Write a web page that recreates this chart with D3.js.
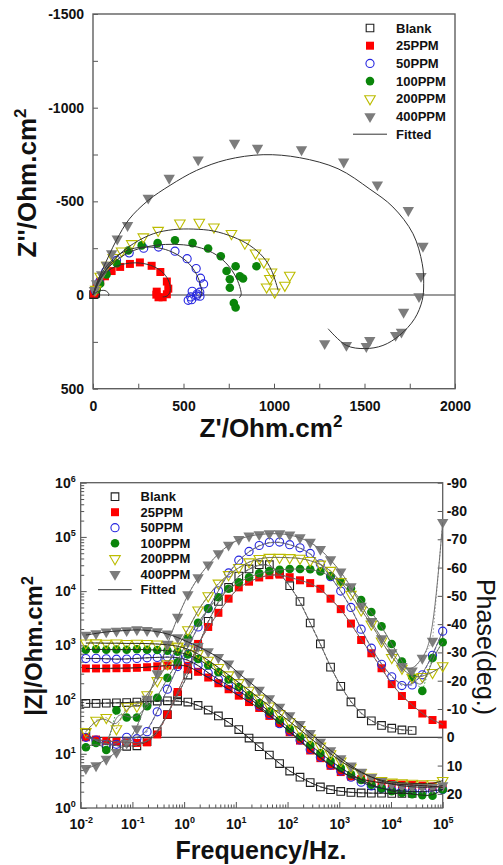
<!DOCTYPE html>
<html><head><meta charset="utf-8">
<script src="https://cdn.jsdelivr.net/npm/d3@7"></script>
<style>
html,body{margin:0;padding:0;background:#fff;}
svg{display:block;}
text{font-family:"Liberation Sans",Arial,Helvetica,sans-serif;}
</style></head><body>
<svg id="chart" width="503" height="865"></svg>
<script>
// ---------- series ----------
const seriesNames = ["Blank", "25PPM", "50PPM", "100PPM", "200PPM", "400PPM"];

// ---------- Nyquist: measured points [Z', Z''] (Ohm.cm2) ----------
const nyqBlank = [[3,-2],[8,-5],[15,-9]];
const nyq25 = [[5,-8],[11,-20],[22,-45],[40,-72],[66,-100],[103,-128],[150,-150],[204,-166],[259,-174],[324,-156],[372,-123],[408,-72],[416,-34],[408,-4],[385,12],[362,12],[350,-2],[352,-18]];
const nyq50 = [[12,-25],[35,-70],[70,-125],[130,-185],[200,-225],[280,-250],[362,-256],[453,-234],[520,-194],[570,-141],[594,-90],[611,-59],[590,-15],[572,5],[548,-20],[540,10],[526,28],[545,25],[591,6],[575,-5]];
const nyq100 = [[20,-30],[39,-60],[75,-110],[131,-170],[195,-238],[269,-265],[357,-277],[453,-292],[550,-277],[636,-248],[706,-207],[788,-154],[738,-128],[756,-84],[756,-39],[811,-100],[829,-88],[903,-154],[778,43],[788,67]];
const nyq200 = [[15,-30],[40,-100],[76,-158],[112,-200],[158,-235],[214,-274],[278,-310],[360,-345],[480,-384],[587,-388],[668,-363],[765,-328],[839,-277],[898,-224],[944,-176],[986,-123],[977,-88],[959,-43],[1004,-16],[1060,-52],[1087,-105]];
const nyq400 = [[8,-25],[20,-61],[48,-110],[75,-160],[103,-222],[134,-300],[191,-372],[305,-518],[421,-624],[581,-722],[782,-811],[909,-784],[1152,-776],[1385,-711],[1571,-589],[1742,-452],[1823,-261],[1812,-100],[1801,8],[1716,91],[1704,197],[1672,215],[1529,242],[1510,274],[1400,268],[1280,259]];

// ---------- Nyquist: fitted curves ----------
const fitBlank = [[0,0],[20,-15],[45,-24],[66,-24],[82,-14],[88,-3],[84,5]];
const fit25 = [[0,0],[20,-50],[60,-110],[120,-150],[200,-170],[280,-168],[350,-145],[400,-105],[425,-55],[425,-15],[410,5],[385,10]];
const fit50 = [[0,0],[30,-80],[80,-160],[150,-220],[230,-250],[320,-256],[400,-243],[470,-213],[530,-168],[572,-110],[596,-45],[600,0],[588,12]];
const fit100 = [[0,0],[40,-90],[110,-170],[200,-228],[300,-258],[400,-270],[500,-268],[600,-250],[680,-215],[745,-160],[790,-95],[815,-30],[818,0],[808,15]];
const fit200 = [[0,0],[57,-114],[131,-203],[223,-274],[333,-327],[443,-349],[554,-352],[664,-342],[774,-310],[866,-265],[940,-203],[986,-132],[1023,-25]];
const fit400 = [[0,0],[20,-60],[50,-130],[90,-215],[131,-296],[200,-405],[305,-505],[425,-585],[572,-665],[738,-722],[940,-749],[1142,-733],[1354,-674],[1530,-565],[1657,-470],[1768,-327],[1819,-167],[1827,-60],[1819,28],[1777,126],[1694,215],[1602,269],[1501,286],[1400,269],[1299,180]];

// ---------- Bode: frequencies (Hz) ----------
const freqHz = [0.0126,0.0198,0.0312,0.0491,0.0774,0.122,0.192,0.302,0.475,0.749,
  1.18,1.86,2.92,4.60,7.24,11.4,18.0,28.3,44.5,70.1,
  110,174,274,431,678,1068,1682,2648,4169,6564,
  10335,16272,25621,40339,63512,100000];

// |Z| (Ohm.cm2)
const modBlank = [85,85,86,87,88,90,92,94,95,94,90,78,64,50,38,28,19.5,13.5,9.5,6.6,4.8,3.7,2.95,2.45,2.18,2.02,1.94,1.9,1.88,1.87,1.86,1.86,1.85,null,null,null];
const mod25 = [375,375,376,378,380,385,395,410,425,435,420,325,255,200,155,118,90,70,50,37,25,17.5,11.5,8.3,6.0,4.6,3.8,3.4,3.1,2.9,2.8,2.7,2.65,2.6,2.5,2.4];
const mod50 = [570,575,565,555,560,575,590,600,610,600,540,430,310,235,180,145,108,76,53,36,26,18,12,8.6,6.2,4.8,3.7,3.0,2.55,2.3,2.15,2.05,2.0,2.0,2.05,2.2];
const mod100 = [830,850,830,840,830,845,830,820,800,760,680,560,430,320,235,170,120,85,60,42,29,20.5,14.5,10.3,7.4,5.5,4.2,3.3,2.7,2.3,2.05,1.9,1.8,1.72,1.68,2.2];
const mod200 = [1100,1110,1090,1100,1080,1090,1080,1060,1030,970,860,700,530,390,285,205,148,106,76,55,39,28,19.5,13.8,10,7.3,5.6,4.5,3.7,3.2,3.0,2.9,2.85,2.8,2.8,3.2];
const mod400 = [1550,1660,1780,1840,1880,1950,1890,1800,1640,1400,1160,960,770,600,455,300,215,150,105,73,51,35,24,16.5,11.5,8.2,6,4.6,3.7,3.1,2.75,2.55,2.45,2.4,2.4,2.6];

// phase (deg.)
const phaseBlank = [-1.5,1.5,2.5,3,3.2,3,1.5,-2,-8,-15,-22,-32,-41,-48,-53,-57,-59.5,-61,-61,-58,-53.6,-48,-40.4,-33,-24.8,-18,-12.5,-8.4,-5.8,-4.2,-3.2,-2.6,-2.4,null,null,null];
const phase25 = [0,0.8,1.3,1.6,1.8,2,1.8,-1,-8,-16,-24,-33,-39,-44,-49,-53,-55,-56.5,-57.3,-57.5,-56.6,-55.5,-54.5,-52.5,-49,-45.3,-40.2,-34.4,-29.7,-24.4,-18.8,-14.6,-11.4,-8.4,-6.1,-4.5];
const phase50 = [0,1,2.5,2.5,0,0.5,-2,-9,-17,-25,-32,-39,-45.5,-51.8,-58.1,-62.6,-65.7,-67.8,-68.9,-69,-68.1,-67,-65,-61.3,-56.8,-51.7,-45.9,-38.2,-31.5,-25.8,-21.4,-18.3,-18.5,-22.1,-29,-37.5];
const phase100 = [3.5,2,4.5,-9.5,-7,-7,-11,-14,-21,-26.5,-35,-40.5,-45.5,-49.5,-52.5,-54.8,-56.6,-58,-58.8,-59.2,-59.5,-59.5,-59.4,-58.6,-57,-55,-52.7,-48.5,-44.3,-39.2,-33,-26.8,-21.3,-16.4,-28,-33.6];
const phase200 = [-2,-6,-7,-3,-11,-11,-15,-20,-26,-32,-38,-45,-50,-54.5,-57.5,-60,-62,-63.2,-63.6,-63.6,-63.5,-63.3,-62.5,-61.2,-59,-55,-50.5,-45,-40,-34,-28.2,-24.4,-21.2,-21.5,-22.9,-25.3];
const phase400 = [11,10,7.7,5.3,2,-3,-13.5,-22.5,-33,-42.5,-50.5,-56.5,-61,-65,-68,-70,-71.2,-71.7,-72,-72,-71.6,-70.6,-69,-66.5,-62.8,-58.5,-53.3,-46.4,-41,-34.9,-30,-25.1,-23.5,-28,-34,-76];

// ---------- tick labels ----------
const nyqXTicks = [0, 500, 1000, 1500, 2000];
const nyqYTicks = [-1500, -1000, -500, 0, 500];
const freqDecades = [-2, -1, 0, 1, 2, 3, 4, 5];
const modDecades = [0, 1, 2, 3, 4, 5, 6];
const phaseTicks = [-90, -80, -70, -60, -50, -40, -30, -20, -10, 0, 10, 20];

// ---------- marker styles ----------
const markerStyles = [
  {shape: d3.symbolSquare,   size: 58, fill: "none",    stroke: "#1e1e1e", rot: 0},
  {shape: d3.symbolSquare,   size: 64, fill: "#ff0000", stroke: "none",    rot: 0},
  {shape: d3.symbolCircle,   size: 52, fill: "none",    stroke: "#2626e0", rot: 0},
  {shape: d3.symbolCircle,   size: 58, fill: "#0a850a", stroke: "none",    rot: 0},
  {shape: d3.symbolTriangle, size: 48, fill: "none",    stroke: "#bcbc00", rot: 180},
  {shape: d3.symbolTriangle, size: 56, fill: "#7c7c7c", stroke: "none",    rot: 180}
];
const connectorStyles = [
  {color: "#111", dash: "3,2"}, {color: "#c40000", dash: "3,2"}, {color: "#2a2ad0", dash: "3,2"},
  {color: "#108a10", dash: "1.5,2"}, {color: "#a8a800", dash: "3,2"}, {color: "#8a8a8a", dash: "1.5,2"}
];

const nyqData = [nyqBlank, nyq25, nyq50, nyq100, nyq200, nyq400];
const nyqFits = [fitBlank, fit25, fit50, fit100, fit200, fit400];
const modData = [modBlank, mod25, mod50, mod100, mod200, mod400];
const phaseData = [phaseBlank, phase25, phase50, phase100, phase200, phase400];

const svg = d3.select("#chart");

function marker(g, st, x, y) {
  g.append("path")
    .attr("d", d3.symbol(st.shape, st.size)())
    .attr("transform", `translate(${x},${y}) rotate(${st.rot})`)
    .attr("fill", st.fill)
    .attr("stroke", st.stroke)
    .attr("stroke-width", 1.1);
}

function styleTicks(g) {
  g.select(".domain").remove();
  g.selectAll(".tick line").attr("stroke", "#555").attr("stroke-width", 1);
  g.selectAll(".tick text").attr("fill", "#111").attr("font-size", 14).attr("font-weight", "bold")
    .attr("font-family", "'Liberation Sans', Arial, sans-serif");
}

// =================== Nyquist plot ===================
const nx = d3.scaleLinear().domain([0, 2000]).range([93, 455]);
const ny = d3.scaleLinear().domain([-1500, 500]).range([14, 388.7]);
const nyq = svg.append("g");

nyq.append("line").attr("x1", nx(0)).attr("x2", nx(2000)).attr("y1", ny(0)).attr("y2", ny(0))
  .attr("stroke", "#7a7a7a").attr("stroke-width", 1.6);

nyq.append("g").attr("transform", `translate(0,${ny(500)})`)
  .call(d3.axisBottom(nx).tickValues(d3.range(0, 2001, 250)).tickSizeInner(-5).tickSizeOuter(0).tickPadding(12.3)
    .tickFormat(d => nyqXTicks.includes(d) ? String(d) : ""))
  .call(styleTicks);

nyq.append("g").attr("transform", `translate(${nx(0)},0)`)
  .call(d3.axisLeft(ny).tickValues(d3.range(-1500, 501, 250)).tickSizeInner(-5).tickSizeOuter(0).tickPadding(9)
    .tickFormat(d => nyqYTicks.includes(d) ? String(d) : ""))
  .call(styleTicks);

nyq.append("rect").attr("x", nx(0)).attr("y", ny(-1500)).attr("width", nx(2000) - nx(0)).attr("height", ny(500) - ny(-1500))
  .attr("fill", "none").attr("stroke", "#5e5e5e").attr("stroke-width", 1.4);

const nyqMarks = nyq.append("g");
nyqData.forEach((pts, i) => pts.forEach(p => marker(nyqMarks, markerStyles[i], nx(p[0]), ny(p[1]))));

const nyqLine = d3.line().x(d => nx(d[0])).y(d => ny(d[1])).curve(d3.curveCatmullRom.alpha(0.5));
nyqFits.forEach(f => nyq.append("path").attr("d", nyqLine(f)).attr("fill", "none")
  .attr("stroke", "#333").attr("stroke-width", 1));

// legend
const nyqLeg = nyq.append("g");
seriesNames.forEach((name, i) => {
  const y = 28 + i * 17.7;
  marker(nyqLeg, markerStyles[i], 370, y);
  nyqLeg.append("text").attr("x", 396).attr("y", y + 4.6).attr("font-size", 13).attr("font-weight", "bold")
    .attr("fill", "#111").text(name);
});
nyqLeg.append("line").attr("x1", 353).attr("x2", 387).attr("y1", 28 + 6 * 17.7).attr("y2", 28 + 6 * 17.7)
  .attr("stroke", "#333").attr("stroke-width", 1);
nyqLeg.append("text").attr("x", 396).attr("y", 28 + 6 * 17.7 + 4.6).attr("font-size", 13).attr("font-weight", "bold")
  .attr("fill", "#111").text("Fitted");

// axis titles
const nxTitle = nyq.append("text").attr("x", 271).attr("y", 436.5).attr("text-anchor", "middle")
  .attr("font-size", 26).attr("font-weight", "bold").attr("fill", "#111");
nxTitle.append("tspan").text("Z'/Ohm.cm");
nxTitle.append("tspan").attr("dy", -10).attr("font-size", 17).text("2");

const nyTitle = nyq.append("text").attr("transform", "translate(36,183) rotate(-90)").attr("text-anchor", "middle")
  .attr("font-size", 26).attr("font-weight", "bold").attr("fill", "#111");
nyTitle.append("tspan").text("Z''/Ohm.cm");
nyTitle.append("tspan").attr("dy", -10).attr("font-size", 17).text("2");

// =================== Bode plot ===================
const bx = d3.scaleLog().domain([0.01, 1e5]).range([80.7, 442.7]);
const bz = d3.scaleLog().domain([1, 1e6]).range([808, 482.7]);
const bp = d3.scaleLinear().domain([-90, 25]).range([482.7, 808]);
const bode = svg.append("g");

bode.append("line").attr("x1", bx(0.01)).attr("x2", bx(1e5)).attr("y1", bp(0)).attr("y2", bp(0))
  .attr("stroke", "#111").attr("stroke-width", 1);

const minorVals = (lo, hi) => {
  const out = [];
  for (let d = lo; d < hi; d++) for (let m = 2; m <= 9; m++) out.push(m * Math.pow(10, d));
  return out;
};
function powerLabels(g, decades, yPos) {
  g.selectAll(".tick text").each(function(d, i) {
    const t = d3.select(this).text(null);
    if (yPos !== undefined) t.attr("y", yPos).attr("dy", null);
    t.append("tspan").text("10");
    t.append("tspan").attr("dy", -6).attr("font-size", 9).text(String(decades[i]));
  });
}

// bottom axis
bode.append("g").attr("transform", `translate(0,${bz(1)})`)
  .call(d3.axisBottom(bx).tickValues(minorVals(-2, 5)).tickSizeInner(-3.5).tickSizeOuter(0).tickFormat(""))
  .call(styleTicks);
bode.append("g").attr("transform", `translate(0,${bz(1)})`)
  .call(d3.axisBottom(bx).tickValues(freqDecades.map(d => Math.pow(10, d))).tickSizeInner(-6).tickSizeOuter(0).tickFormat(() => ""))
  .call(styleTicks)
  .call(g => powerLabels(g, freqDecades, 20.5));

// left axis
bode.append("g").attr("transform", `translate(${bx(0.01)},0)`)
  .call(d3.axisLeft(bz).tickValues(minorVals(0, 6)).tickSizeInner(-3.5).tickSizeOuter(0).tickFormat(""))
  .call(styleTicks);
bode.append("g").attr("transform", `translate(${bx(0.01)},0)`)
  .call(d3.axisLeft(bz).tickValues(modDecades.map(d => Math.pow(10, d))).tickSizeInner(-6).tickSizeOuter(0).tickPadding(5).tickFormat(() => ""))
  .call(styleTicks)
  .call(g => powerLabels(g, modDecades));

// right axis
bode.append("g").attr("transform", `translate(${bx(1e5)},0)`)
  .call(d3.axisRight(bp).tickValues(phaseTicks).tickSizeInner(-5).tickSizeOuter(0).tickPadding(4).tickFormat(d => String(d)))
  .call(styleTicks);

bode.append("rect").attr("x", bx(0.01)).attr("y", bz(1e6)).attr("width", bx(1e5) - bx(0.01)).attr("height", bz(1) - bz(1e6))
  .attr("fill", "none").attr("stroke", "#5e5e5e").attr("stroke-width", 1.3);

const bodeMarks = bode.append("g");
const bodeLines = bode.append("g");
seriesNames.forEach((name, i) => {
  const pts = freqHz.map((f, k) => ({f, z: modData[i][k], p: phaseData[i][k]})).filter(d => d.z != null);
  pts.forEach(d => marker(bodeMarks, markerStyles[i], bx(d.f), bz(d.z)));
  pts.forEach(d => marker(bodeMarks, markerStyles[i], bx(d.f), bp(d.p)));

  const cs = connectorStyles[i];
  const zLine = d3.line().x(d => bx(d.f)).y(d => bz(d.z));
  const pLine = d3.line().x(d => bx(d.f)).y(d => bp(d.p));
  [zLine, pLine].forEach(l => bodeLines.append("path").attr("d", l(pts)).attr("fill", "none")
    .attr("stroke", cs.color).attr("stroke-width", 0.8).attr("stroke-dasharray", cs.dash));

  const zFit = d3.line().x(d => bx(d.f)).y(d => bz(d.z)).curve(d3.curveBasis);
  const pFit = d3.line().x(d => bx(d.f)).y(d => bp(d.p)).curve(d3.curveBasis);
  bodeLines.append("path").attr("d", zFit(pts)).attr("fill", "none").attr("stroke", "#222").attr("stroke-width", 0.9);
  bodeLines.append("path").attr("d", pFit(pts)).attr("fill", "none").attr("stroke", "#666").attr("stroke-width", 0.9);
});

// legend
const bodeLeg = bode.append("g");
seriesNames.forEach((name, i) => {
  const y = 496.7 + i * 15.5;
  marker(bodeLeg, markerStyles[i], 115, y);
  bodeLeg.append("text").attr("x", 140.5).attr("y", y + 4.6).attr("font-size", 13).attr("font-weight", "bold")
    .attr("fill", "#111").text(name);
});
bodeLeg.append("line").attr("x1", 98).attr("x2", 131.7).attr("y1", 496.7 + 6 * 15.5).attr("y2", 496.7 + 6 * 15.5)
  .attr("stroke", "#333").attr("stroke-width", 1);
bodeLeg.append("text").attr("x", 140.5).attr("y", 496.7 + 6 * 15.5 + 4.6).attr("font-size", 13).attr("font-weight", "bold")
  .attr("fill", "#111").text("Fitted");

// axis titles
bode.append("text").attr("x", 261).attr("y", 859).attr("text-anchor", "middle")
  .attr("font-size", 25).attr("font-weight", "bold").attr("fill", "#111").text("Frequency/Hz.");

const bzTitle = bode.append("text").attr("transform", "translate(42,646) rotate(-90)").attr("text-anchor", "middle")
  .attr("font-size", 24).attr("font-weight", "bold").attr("fill", "#111");
bzTitle.append("tspan").text("|Z|/Ohm.cm");
bzTitle.append("tspan").attr("dy", -9).attr("font-size", 16).text("2");

bode.append("text").attr("transform", "translate(477,647) rotate(90)").attr("text-anchor", "middle")
  .attr("font-size", 25).attr("fill", "#111").text("Phase(deg.)");
</script></body></html>
